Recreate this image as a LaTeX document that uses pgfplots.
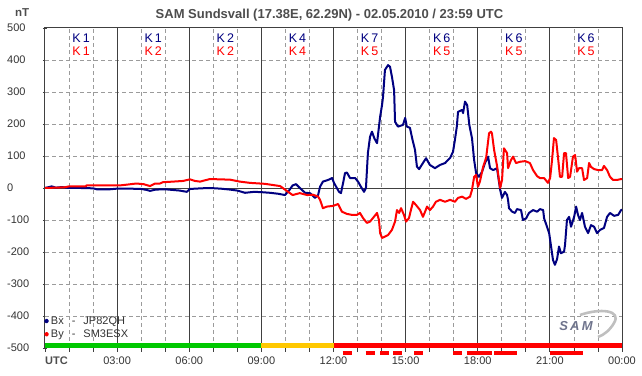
\documentclass[border=0pt]{standalone}
\usepackage{fontspec}
\setmainfont{Liberation Sans}
\usepackage{pgfplots}
\usepackage{pgfplotstable}
\pgfplotsset{compat=1.18}
\definecolor{bxblue}{RGB}{0,0,128}
\definecolor{byred}{RGB}{255,0,0}
\definecolor{framec}{RGB}{64,64,64}
\definecolor{gridc}{RGB}{155,155,155}
\definecolor{kgreen}{RGB}{0,200,0}
\definecolor{korange}{RGB}{255,200,0}
\definecolor{titlec}{RGB}{77,77,77}
\definecolor{tickc}{RGB}{51,51,51}
\definecolor{logoc}{RGB}{110,115,140}
\tikzset{
  kb/.style={text=bxblue, font=\fontsize{12.5bp}{14bp}\selectfont, inner sep=0pt},
  kr/.style={text=byred, font=\fontsize{12.5bp}{14bp}\selectfont, inner sep=0pt},
}

\pgfplotstableread{
h v
0.00 0
0.28 5
0.45 1
0.70 3
1.00 0
1.50 0
2.00 -1
2.15 -4
2.70 -4
3.00 -2
3.50 -2
4.00 -3
4.23 -6
4.37 -9
4.60 -5
5.00 -4
5.60 -8
5.90 -12
6.03 -3
6.50 -1
6.86 0
7.30 -2
7.70 -5
8.00 -8
8.32 -15
8.70 -12
9.00 -13
9.36 -15
9.70 -18
9.98 -22
10.15 -8
10.30 8
10.44 12
10.60 0
10.82 -15
11.02 -16
11.23 -31
11.36 -22
11.44 4
11.56 20
11.77 25
11.94 31
12.02 16
12.14 0
12.23 -12
12.31 -16
12.40 16
12.48 47
12.56 48
12.69 31
12.90 31
13.02 20
13.14 4
13.27 -12
13.35 0
13.43 109
13.52 160
13.60 176
13.70 155
13.81 140
13.94 223
14.02 260
14.06 285
14.14 369
14.27 384
14.35 379
14.43 348
14.52 306
14.56 207
14.68 192
14.89 197
14.98 219
15.05 192
15.18 188
15.27 156
15.39 119
15.47 67
15.56 59
15.72 78
15.85 93
16.01 72
16.22 62
16.43 72
16.64 78
16.85 94
16.97 113
17.05 150
17.13 192
17.18 238
17.35 244
17.39 234
17.47 270
17.56 259
17.65 197
17.76 156
17.85 87
17.93 47
18.05 35
18.18 51
18.30 78
18.43 98
18.51 62
18.64 56
18.80 62
18.93 -5
19.01 -31
19.13 -12
19.22 -22
19.26 -37
19.30 -63
19.43 -74
19.55 -78
19.63 -66
19.80 -69
19.88 -100
20.01 -95
20.13 -78
20.30 -69
20.47 -74
20.59 -66
20.72 -69
20.76 -95
20.88 -121
20.97 -141
21.05 -183
21.13 -225
21.21 -240
21.30 -222
21.38 -183
21.46 -204
21.59 -199
21.63 -178
21.71 -100
21.80 -90
21.88 -121
22.01 -90
22.09 -58
22.17 -84
22.25 -100
22.34 -78
22.46 -121
22.59 -141
22.71 -116
22.84 -121
22.96 -141
23.09 -131
23.25 -125
23.38 -90
23.50 -78
23.67 -87
23.84 -84
23.96 -69
24.00 -68
}\bxdata

\pgfplotstableread{
h v
0.00 0
0.80 2
1.00 5
1.70 5
1.72 8
3.10 8
3.35 10
3.80 14
4.10 12
4.37 6
4.58 14
4.78 14
4.90 18
5.33 20
5.74 22
6.03 27
6.24 22
6.45 20
6.86 28
7.30 27
7.70 26
8.10 20
8.53 16
9.15 13
9.78 6
10.00 -6
10.30 -22
10.60 -16
10.90 -22
11.15 -21
11.36 -27
11.44 -37
11.56 -63
11.73 -58
11.98 -56
12.19 -50
12.35 -74
12.56 -81
12.77 -84
12.98 -84
13.10 -78
13.23 -94
13.39 -109
13.52 -105
13.64 -94
13.81 -78
13.89 -100
13.94 -141
14.02 -156
14.14 -152
14.27 -147
14.43 -131
14.56 -105
14.64 -69
14.73 -78
14.81 -63
14.93 -84
15.02 -105
15.14 -94
15.22 -69
15.31 -43
15.43 -53
15.60 -69
15.72 -90
15.81 -74
15.89 -58
16.01 -69
16.14 -58
16.26 -43
16.43 -37
16.64 -43
16.85 -37
17.05 -43
17.18 -31
17.35 -27
17.51 -34
17.68 -27
17.76 -6
17.85 35
17.93 41
18.01 4
18.09 20
18.22 65
18.35 95
18.47 171
18.55 176
18.59 171
18.68 119
18.80 70
18.93 0
19.01 25
19.09 124
19.22 109
19.26 62
19.38 87
19.47 98
19.59 78
19.76 82
19.97 84
20.17 78
20.30 56
20.47 37
20.59 31
20.76 31
20.92 16
21.01 31
21.09 87
21.17 156
21.26 150
21.34 94
21.42 35
21.51 35
21.59 109
21.67 109
21.76 31
21.84 35
21.96 98
22.05 103
22.13 51
22.21 62
22.34 62
22.42 25
22.55 31
22.63 78
22.71 66
22.84 59
23.00 56
23.17 56
23.25 69
23.38 56
23.50 35
23.63 25
23.79 25
23.96 28
24.00 28
}\bydata

\begin{document}
\begin{tikzpicture}
\path[use as bounding box] (0,0) rectangle (642bp,376bp);
\begin{axis}[
  at={(45bp,28bp)}, anchor=south west,
  scale only axis, width=577bp, height=320bp,
  xmin=0, xmax=24, ymin=-500, ymax=500,
  clip=false,
  axis line style={draw=framec, line width=1bp},
  xtick={0,...,24},
  xticklabels={,,,03:00,,,06:00,,,09:00,,,12:00,,,15:00,,,18:00,,,21:00,,,00:00},
  ytick={-500,-400,...,500},
  yticklabels={-500,-400,-300,-200,-100,0,100,200,300,400,500},
  tick pos=left,
  xtick align=outside, ytick align=center,
  major tick length=4bp,
  tick style={draw=framec, line width=0.8bp},
  xticklabel style={font=\fontsize{11bp}{13bp}\selectfont, text=tickc, inner sep=0pt, anchor=base, yshift=-12bp},
  yticklabel style={font=\fontsize{11bp}{13bp}\selectfont, text=tickc, inner sep=0pt, anchor=west, xshift=-36bp},
  legend style={at={(0,0)}, anchor=south west, xshift=-2bp, yshift=6bp, draw=none, fill=none,
    inner sep=1bp, font=\fontsize{11bp}{13bp}\selectfont, text=tickc, row sep=0bp,
    cells={anchor=west}},
  legend image code/.code={\fill[#1] (1.5bp,0bp) circle (1.4bp);},
]
% grid
\pgfplotsinvokeforeach{1,2,4,5,7,8,10,11,13,14,16,17,19,20,22,23}{
  \draw[gridc, dash pattern=on 4bp off 3bp, line width=0.8bp] (axis cs:#1,-500) -- (axis cs:#1,500);}
\pgfplotsinvokeforeach{-400,-300,-200,-100,100,200,300,400}{
  \draw[gridc, dash pattern=on 4bp off 3bp, line width=0.8bp] (axis cs:0,#1) -- (axis cs:24,#1);}
\pgfplotsinvokeforeach{3,6,9,12,15,18,21}{
  \draw[framec, line width=0.9bp] (axis cs:#1,-500) -- (axis cs:#1,500);}
\draw[framec, line width=0.9bp] (axis cs:0,0) -- (axis cs:24,0);
% activity bar
\addplot[fill=kgreen, draw=none, forget plot] coordinates {(0,-500) (0,-484) (9,-484) (9,-500)} -- cycle;
\addplot[fill=korange, draw=none, forget plot] coordinates {(9,-500) (9,-484) (12,-484) (12,-500)} -- cycle;
\addplot[fill=byred, draw=none, forget plot] coordinates {(12,-500) (12,-484) (24,-484) (24,-500)} -- cycle;
% red marks below axis
\addplot[byred, line width=4bp, forget plot] coordinates {(12.38,-515) (12.77,-515)};
\addplot[byred, line width=4bp, forget plot] coordinates {(13.34,-515) (13.73,-515)};
\addplot[byred, line width=4bp, forget plot] coordinates {(13.94,-515) (14.31,-515)};
\addplot[byred, line width=4bp, forget plot] coordinates {(14.48,-515) (14.85,-515)};
\addplot[byred, line width=4bp, forget plot] coordinates {(15.35,-515) (15.72,-515)};
\addplot[byred, line width=4bp, forget plot] coordinates {(16.96,-515) (17.33,-515)};
\addplot[byred, line width=4bp, forget plot] coordinates {(17.54,-515) (18.59,-515)};
\addplot[byred, line width=4bp, forget plot] coordinates {(18.68,-515) (19.63,-515)};
\addplot[byred, line width=4bp, forget plot] coordinates {(21.00,-515) (22.38,-515)};
% series
\addplot[color=bxblue, line width=2bp, line join=round] table[x=h, y=v]{\bxdata};
\addlegendentry{Bx\hspace{8bp}-\hspace{8bp}JP82QH}
\addplot[color=byred, line width=2bp, line join=round] table[x=h, y=v]{\bydata};
\addlegendentry{By\hspace{8bp}-\hspace{8bp}SM3ESX}
% K indices
\node[kb] at (axis cs:1.5,468) {K\,1};  \node[kr] at (axis cs:1.5,427) {K\,1};
\node[kb] at (axis cs:4.5,468) {K\,1};  \node[kr] at (axis cs:4.5,427) {K\,2};
\node[kb] at (axis cs:7.5,468) {K\,2};  \node[kr] at (axis cs:7.5,427) {K\,2};
\node[kb] at (axis cs:10.5,468) {K\,4}; \node[kr] at (axis cs:10.5,427) {K\,4};
\node[kb] at (axis cs:13.5,468) {K\,7}; \node[kr] at (axis cs:13.5,427) {K\,5};
\node[kb] at (axis cs:16.5,468) {K\,6}; \node[kr] at (axis cs:16.5,427) {K\,5};
\node[kb] at (axis cs:19.5,468) {K\,6}; \node[kr] at (axis cs:19.5,427) {K\,5};
\node[kb] at (axis cs:22.5,468) {K\,6}; \node[kr] at (axis cs:22.5,427) {K\,5};
\end{axis}
% titles
\node[anchor=base, text=titlec, font=\bfseries\fontsize{13bp}{15bp}\selectfont, inner sep=0pt] at (329.5bp,357.7bp) {SAM Sundsvall (17.38E, 62.29N) - 02.05.2010 / 23:59 UTC};
\node[anchor=base west, text=titlec, font=\bfseries\fontsize{11.5bp}{13bp}\selectfont, inner sep=0pt] at (15bp,359bp) {nT};
\node[anchor=base west, text=titlec, font=\bfseries\fontsize{11bp}{13bp}\selectfont, inner sep=0pt] at (45bp,12bp) {UTC};
% logo
\draw[gray!50, line width=2.6bp] (580bp,61bp) .. controls (600bp,68bp) and (622bp,66bp) .. (614bp,53bp) .. controls (610bp,46bp) and (604bp,41bp) .. (598bp,39bp);
\node[text=logoc, font=\bfseries\itshape\fontsize{13bp}{14bp}\selectfont, inner sep=0pt] at (576bp,50bp) {S\,A\,M};
\end{tikzpicture}
\end{document}
